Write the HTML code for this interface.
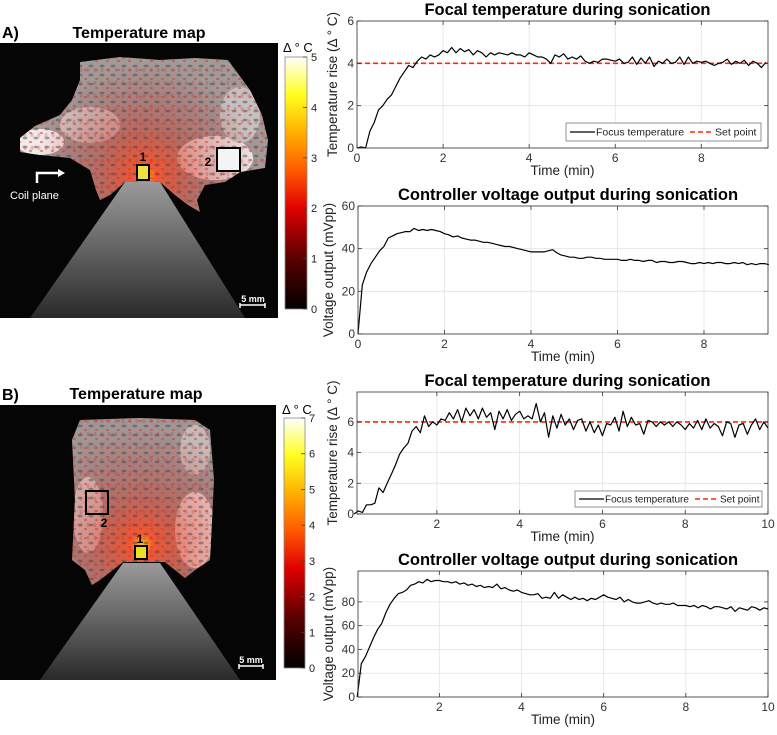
<!DOCTYPE html>
<html><head><meta charset="utf-8">
<style>
html,body{margin:0;padding:0;background:#fff;}
body{width:777px;height:730px;overflow:hidden;font-family:"Liberation Sans",sans-serif;}
svg text{font-family:"Liberation Sans",sans-serif;}
</style></head>
<body>
<svg id="fig" width="777" height="730" viewBox="0 0 777 730" xmlns="http://www.w3.org/2000/svg">
<defs>
  <linearGradient id="cbar" x1="0" y1="1" x2="0" y2="0">
    <stop offset="0" stop-color="#000"/>
    <stop offset="0.2" stop-color="#5a0000"/>
    <stop offset="0.4" stop-color="#e00000"/>
    <stop offset="0.55" stop-color="#ff5a00"/>
    <stop offset="0.7" stop-color="#ffb000"/>
    <stop offset="0.85" stop-color="#ffff20"/>
    <stop offset="1" stop-color="#ffffff"/>
  </linearGradient>
  <radialGradient id="heatA" cx="145" cy="175" r="110" gradientUnits="userSpaceOnUse">
    <stop offset="0" stop-color="#ffd000" stop-opacity="1"/>
    <stop offset="0.1" stop-color="#ff4a20" stop-opacity="0.85"/>
    <stop offset="0.45" stop-color="#c83020" stop-opacity="0.45"/>
    <stop offset="1" stop-color="#a02020" stop-opacity="0.05"/>
  </radialGradient>
  <radialGradient id="heatB" cx="142" cy="545" r="115" gradientUnits="userSpaceOnUse">
    <stop offset="0" stop-color="#ffd000" stop-opacity="1"/>
    <stop offset="0.1" stop-color="#ff4a20" stop-opacity="0.85"/>
    <stop offset="0.45" stop-color="#c83020" stop-opacity="0.45"/>
    <stop offset="1" stop-color="#a02020" stop-opacity="0.08"/>
  </radialGradient>
  <linearGradient id="cone" x1="0" y1="0" x2="0" y2="1">
    <stop offset="0" stop-color="#9a9a9a"/>
    <stop offset="1" stop-color="#2a2a2a"/>
  </linearGradient>
  <pattern id="spots" width="11" height="9" patternUnits="userSpaceOnUse">
    <ellipse cx="3" cy="3" rx="2.6" ry="1.4" fill="#4a3a3a" opacity="0.7"/>
    <ellipse cx="8.5" cy="7" rx="1.6" ry="1.1" fill="#e03020" opacity="0.8"/>
  </pattern>
  <pattern id="spots2" width="7" height="13" patternUnits="userSpaceOnUse">
    <ellipse cx="4" cy="5" rx="1.5" ry="2.2" fill="#d02818" opacity="0.7"/>
  </pattern>
  <path id="blobA" d="M80,62 L120,57 L160,60 L195,58 L228,60 L250,90 L262,115 L268,140 L265,168 L240,172 L225,182 L205,185 L197,200 L200,212 L188,205 L175,195 L160,182 L125,182 L110,195 L100,200 L96,190 L90,170 L70,158 L40,155 L20,152 L20,138 L35,126 L60,115 L72,100 L80,80 Z"/>
  <path id="blobB" d="M80,420 L140,418 L195,420 L210,430 L214,480 L210,560 L195,570 L185,578 L165,562 L123,562 L100,580 L92,585 L85,570 L72,560 L75,500 L72,440 Z"/>
  <clipPath id="clipA"><use href="#blobA"/></clipPath>
  <clipPath id="clipB"><use href="#blobB"/></clipPath>
</defs>

<!-- Panel A image -->
<g>
  <text x="2" y="38" font-size="16" font-weight="bold">A)</text>
  <text x="139" y="38" font-size="16" font-weight="bold" text-anchor="middle">Temperature map</text>
  <rect x="0" y="43" width="278" height="275" fill="#050505"/>
  <polygon points="125,182 160,182 245,318 30,318" fill="url(#cone)"/>
  <use href="#blobA" fill="#a0a0a0"/>
  <g clip-path="url(#clipA)">
    <ellipse cx="40" cy="142" rx="24" ry="13" fill="#f4f4f4"/>
    <ellipse cx="215" cy="158" rx="38" ry="22" fill="#eeeeee"/>
    <ellipse cx="90" cy="125" rx="30" ry="18" fill="#d0d0d0"/>
    <ellipse cx="240" cy="115" rx="20" ry="28" fill="#c8c8c8"/>
  </g>
  <use href="#blobA" fill="url(#heatA)"/>
  <use href="#blobA" fill="url(#spots)" opacity="0.65"/>
  <use href="#blobA" fill="url(#spots2)" opacity="0.35"/>
  <rect x="137" y="165" width="12" height="15" fill="#f0e040" stroke="#000" stroke-width="2"/>
  <text x="143" y="161" font-size="12" font-weight="bold" text-anchor="middle">1</text>
  <rect x="217" y="148" width="23" height="23" fill="#f4f4f4" stroke="#000" stroke-width="2"/>
  <text x="208" y="166" font-size="12" font-weight="bold" text-anchor="middle">2</text>
  <path d="M37,183 L37,173 L58,173" stroke="#fff" stroke-width="2.5" fill="none"/>
  <polygon points="58,169 65,173 58,177" fill="#fff"/>
  <text x="10" y="199" font-size="11" fill="#fff">Coil plane</text>
  <text x="253" y="302" font-size="9" font-weight="bold" fill="#fff" text-anchor="middle">5 mm</text>
  <path d="M240,305 L265,305 M240,303 L240,308 M265,303 L265,308" stroke="#fff" stroke-width="1.5"/>
  <text x="283" y="52" font-size="13">Δ ° C</text>
  <rect x="285" y="57" width="22" height="252" fill="url(#cbar)" stroke="#888" stroke-width="0.8"/>
  <g id="cbA" font-size="11" fill="#222"></g>
</g>

<!-- Panel B image -->
<g>
  <text x="2" y="400" font-size="16" font-weight="bold">B)</text>
  <text x="136" y="399" font-size="16" font-weight="bold" text-anchor="middle">Temperature map</text>
  <rect x="0" y="405" width="276" height="275" fill="#050505"/>
  <polygon points="123,563 160,563 240,680 40,680" fill="url(#cone)"/>
  <use href="#blobB" fill="#a0a0a0"/>
  <g clip-path="url(#clipB)">
    <ellipse cx="195" cy="530" rx="20" ry="38" fill="#f2f2f2"/>
    <ellipse cx="88" cy="515" rx="15" ry="38" fill="#dcdcdc"/>
    <ellipse cx="195" cy="450" rx="15" ry="25" fill="#c8c8c8"/>
  </g>
  <use href="#blobB" fill="url(#heatB)"/>
  <use href="#blobB" fill="url(#spots)" opacity="0.65"/>
  <use href="#blobB" fill="url(#spots2)" opacity="0.35"/>
  <rect x="135" y="546" width="12" height="13" fill="#e8e020" stroke="#000" stroke-width="2"/>
  <text x="140" y="543" font-size="12" font-weight="bold" text-anchor="middle">1</text>
  <rect x="86" y="491" width="22" height="23" fill="none" stroke="#000" stroke-width="2"/>
  <text x="104" y="527" font-size="12" font-weight="bold" text-anchor="middle">2</text>
  <text x="251" y="663" font-size="9" font-weight="bold" fill="#fff" text-anchor="middle">5 mm</text>
  <path d="M239,666 L263,666 M239,664 L239,669 M263,664 L263,669" stroke="#fff" stroke-width="1.5"/>
  <text x="282" y="414" font-size="13">Δ ° C</text>
  <rect x="284" y="418" width="21" height="250" fill="url(#cbar)" stroke="#888" stroke-width="0.8"/>
  <g id="cbB" font-size="11" fill="#222"></g>
</g>

<g id="charts"></g>
</svg>

<script>
// ---- Data ----
const tempA = [0,0.05,0,0.8,1.2,1.8,2.0,2.3,2.5,2.9,3.3,3.6,3.9,3.8,4.1,4.3,4.2,4.4,4.3,4.4,4.6,4.5,4.75,4.5,4.7,4.55,4.65,4.4,4.6,4.5,4.3,4.5,4.4,4.5,4.45,4.4,4.5,4.4,4.4,4.3,4.5,4.4,4.3,4.3,4.2,4.0,4.4,4.3,4.45,4.2,4.3,4.2,4.35,4.1,4.0,4.1,4.05,4.2,4.2,4.15,4.1,4.2,4.0,4.05,4.3,3.95,4.25,4.0,4.3,3.85,4.1,4.0,4.2,4.0,4.05,4.3,3.95,4.3,4.0,4.1,4.05,4.1,4.0,3.9,4.0,4.05,4.2,3.95,4.1,4.0,4.15,3.9,4.1,4.0,3.8,4.05];
const voltA = [0,23,29,33,36,39,41,45,46,47,47.5,48,48,49.5,48.5,49,48.5,49,48.5,48,47,46.5,45.5,46,45,44.5,44,44,43.5,43,43,42.5,42,41.5,41,41,40.5,40,39.5,39,38.5,38.5,38.5,38.5,39,39.5,38,37,36.5,36,36,35.5,35.5,36,36,35.5,35.5,35,35,35,35,34.5,34.5,35,34.5,34.5,34,34.5,34.5,33.5,34,34,33.5,33.5,34,34,33.5,33,33,33.5,33,33.5,33,33.5,33.5,33,33,33.5,33,33.5,32.5,33,32.5,33,33,32.5];
const tempB = [0,0.2,0.1,0.6,0.6,0.7,1.7,1.4,2.0,2.6,3.2,3.9,4.3,4.6,5.4,5.7,5.3,6.4,5.7,6.0,5.8,6.2,6.1,6.6,6.2,6.8,6.0,6.9,6.4,6.8,6.2,6.9,6.3,6.6,5.5,6.7,6.2,6.8,6.1,6.5,6.7,6.2,6.4,6.2,7.2,6.0,6.6,5.0,6.4,5.6,6.5,5.8,6.2,5.5,6.1,6.2,5.4,6.0,5.3,5.8,5.1,5.9,5.8,6.3,5.4,6.7,5.7,6.3,5.8,5.9,5.2,6.1,6.0,5.7,6.0,5.8,6.0,5.7,6.0,5.8,5.5,5.9,5.6,6.1,5.5,6.2,5.6,5.9,5.7,5.1,6.0,5.9,5.0,5.8,5.9,5.2,5.8,6.2,5.5,6.0,5.6];
const voltB = [0,28,34,42,50,57,62,71,78,83,87,88,90,94,95,97,96,99,97,98,98,97,97,96,97,95,96,94,95,93,94,92,93,92,95,91,92,90,89,90,88,87,86,86,87,83,84,83,88,83,86,84,82,84,82,83,81,83,82,84,86,84,83,82,84,80,82,80,79,79,80,81,79,78,79,78,78,79,77,77,77,76,77,75,77,76,74,76,76,75,74,76,72,75,74,73,76,75,73,75,74];
const timeStep = 0.1;
const setPointA = 4, setPointB = 6;
const ticksA1y = [0,2,4,6], ticksA2y = [0,20,40,60];
const ticksB1y = [0,2,4,6], ticksB2y = [0,20,40,60,80];
const ticksAx = [0,2,4,6,8], ticksBx = [2,4,6,8,10];
const cbTicksA = [0,1,2,3,4,5], cbTicksB = [0,1,2,3,4,5,6,7];

const NS = "http://www.w3.org/2000/svg";
function mk(tag, attrs, parent){
  const e = document.createElementNS(NS, tag);
  for (const k in attrs) e.setAttribute(k, attrs[k]);
  if (parent) parent.appendChild(e);
  return e;
}
function txt(s, attrs, parent){ const e = mk('text', attrs, parent); e.textContent = s; return e; }

function colorbarTicks(gid, ticks, y0, y1, x){
  const g = document.getElementById(gid);
  const max = ticks[ticks.length-1];
  ticks.forEach(v=>{
    const y = y0 - (y0-y1)*v/max;
    mk('line',{x1:x-4,y1:y,x2:x,y2:y,stroke:'#444','stroke-width':0.8},g);
    const t = txt(String(v),{x:x+4,y:y+4},g);
    
    
  });
}
colorbarTicks('cbA', cbTicksA, 309, 57, 307);
colorbarTicks('cbB', cbTicksB, 668, 418, 305);

function chart(cfg){
  const root = document.getElementById('charts');
  const g = mk('g',{},root);
  
  
  const {L,R,T,B,xmin,xmax,ymin,ymax} = cfg;
  const sx = v => L + (v-xmin)/(xmax-xmin)*(R-L);
  const sy = v => B - (v-ymin)/(ymax-ymin)*(B-T);
  mk('rect',{x:L,y:T,width:R-L,height:B-T,fill:'#fff'},g);
  cfg.xt.forEach(v=>{ mk('line',{x1:sx(v),y1:T,x2:sx(v),y2:B,stroke:'#e4e4e4','stroke-width':0.8},g); });
  cfg.yt.forEach(v=>{ mk('line',{x1:L,y1:sy(v),x2:R,y2:sy(v),stroke:'#e4e4e4','stroke-width':0.8},g); });
  if (cfg.sp !== undefined){
    const sp = mk('line',{x1:L,y1:sy(cfg.sp),x2:R,y2:sy(cfg.sp),stroke:'#ff2a00','stroke-width':1.6,'stroke-dasharray':'5,3'},g);
    
    
  }
  const d = cfg.data.map((v,i)=>(i?'L':'M')+sx(i*timeStep).toFixed(1)+','+sy(v).toFixed(1)).join(' ');
  const p = mk('path',{d:d,fill:'none',stroke:'#000','stroke-width':1.2,'stroke-linejoin':'round'},g);
  
  
  mk('rect',{x:L,y:T,width:R-L,height:B-T,fill:'none',stroke:'#333','stroke-width':0.8},g);
  cfg.xt.forEach(v=>{
    mk('line',{x1:sx(v),y1:B,x2:sx(v),y2:B-4,stroke:'#333','stroke-width':0.8},g);
    mk('line',{x1:sx(v),y1:T,x2:sx(v),y2:T+4,stroke:'#333','stroke-width':0.8},g);
    const t = txt(String(v),{x:sx(v),y:B+14,'font-size':12,'text-anchor':'middle',fill:'#333'},g);
    
    
  });
  cfg.yt.forEach(v=>{
    mk('line',{x1:L,y1:sy(v),x2:L+4,y2:sy(v),stroke:'#333','stroke-width':0.8},g);
    mk('line',{x1:R,y1:sy(v),x2:R-4,y2:sy(v),stroke:'#333','stroke-width':0.8},g);
    const t = txt(String(v),{x:L-3,y:sy(v)+4,'font-size':12,'text-anchor':'end',fill:'#333'},g);
    
    
  });
  const ti = txt(cfg.title,{x:(L+R)/2+5,y:T-6,'font-size':16.5,'font-weight':'bold','text-anchor':'middle'},g);
  
  
  const xl = txt('Time (min)',{x:(L+R)/2,y:B+27,'font-size':13.5,'text-anchor':'middle',fill:'#222'},g);
  
  
  const yl = txt(cfg.ylab,{x:0,y:0,'font-size':13.5,'text-anchor':'middle',fill:'#222',transform:`translate(${cfg.ylx},${(T+B)/2}) rotate(-90)`},g);
  
  
  if (cfg.leg){
    const [lx,ly,lw,lh] = cfg.leg;
    const lg = mk('g',{},g);
    
    
    mk('rect',{x:lx,y:ly,width:lw,height:lh,fill:'#fff',stroke:'#777','stroke-width':0.8},lg);
    mk('line',{x1:lx+4,y1:ly+lh/2,x2:lx+29,y2:ly+lh/2,stroke:'#000','stroke-width':1.3},lg);
    txt('Focus temperature',{x:lx+30,y:ly+lh/2+3.5,'font-size':cfg.lfs,fill:'#222'},lg);
    const sx2 = lx + cfg.lsp;
    mk('line',{x1:sx2,y1:ly+lh/2,x2:sx2+24,y2:ly+lh/2,stroke:'#ff2a00','stroke-width':1.6,'stroke-dasharray':'5,3'},lg);
    txt('Set point',{x:sx2+25,y:ly+lh/2+3.5,'font-size':cfg.lfs,fill:'#222'},lg);
  }
}

chart({name:'focal-temperature-chart-a',series:'focus-temperature-line-a',L:357,R:768,T:21,B:148,xmin:0,xmax:9.55,ymin:0,ymax:6,
  xt:ticksAx,yt:ticksA1y,data:tempA,sp:setPointA,title:'Focal temperature during sonication',ylab:'Temperature rise (Δ ° C)',ylx:337,
  leg:[566,123,195,18],lfs:10.5,lsp:124});
chart({name:'voltage-output-chart-a',series:'voltage-output-line-a',L:358,R:768,T:206,B:334,xmin:0,xmax:9.48,ymin:0,ymax:60,
  xt:ticksAx,yt:ticksA2y,data:voltA,title:'Controller voltage output during sonication',ylab:'Voltage output (mVpp)',ylx:333});
chart({name:'focal-temperature-chart-b',series:'focus-temperature-line-b',L:357,R:768,T:392,B:514,xmin:0.07,xmax:10,ymin:0,ymax:7.95,
  xt:ticksBx,yt:ticksB1y,data:tempB,sp:setPointB,title:'Focal temperature during sonication',ylab:'Temperature rise (Δ ° C)',ylx:337,
  leg:[575,491,187,16],lfs:10,lsp:120});
chart({name:'voltage-output-chart-b',series:'voltage-output-line-b',L:358,R:768,T:571,B:697,xmin:0.02,xmax:10,ymin:0,ymax:106,
  xt:ticksBx,yt:ticksB2y,data:voltB,title:'Controller voltage output during sonication',ylab:'Voltage output (mVpp)',ylx:333});
</script>
</body></html>
